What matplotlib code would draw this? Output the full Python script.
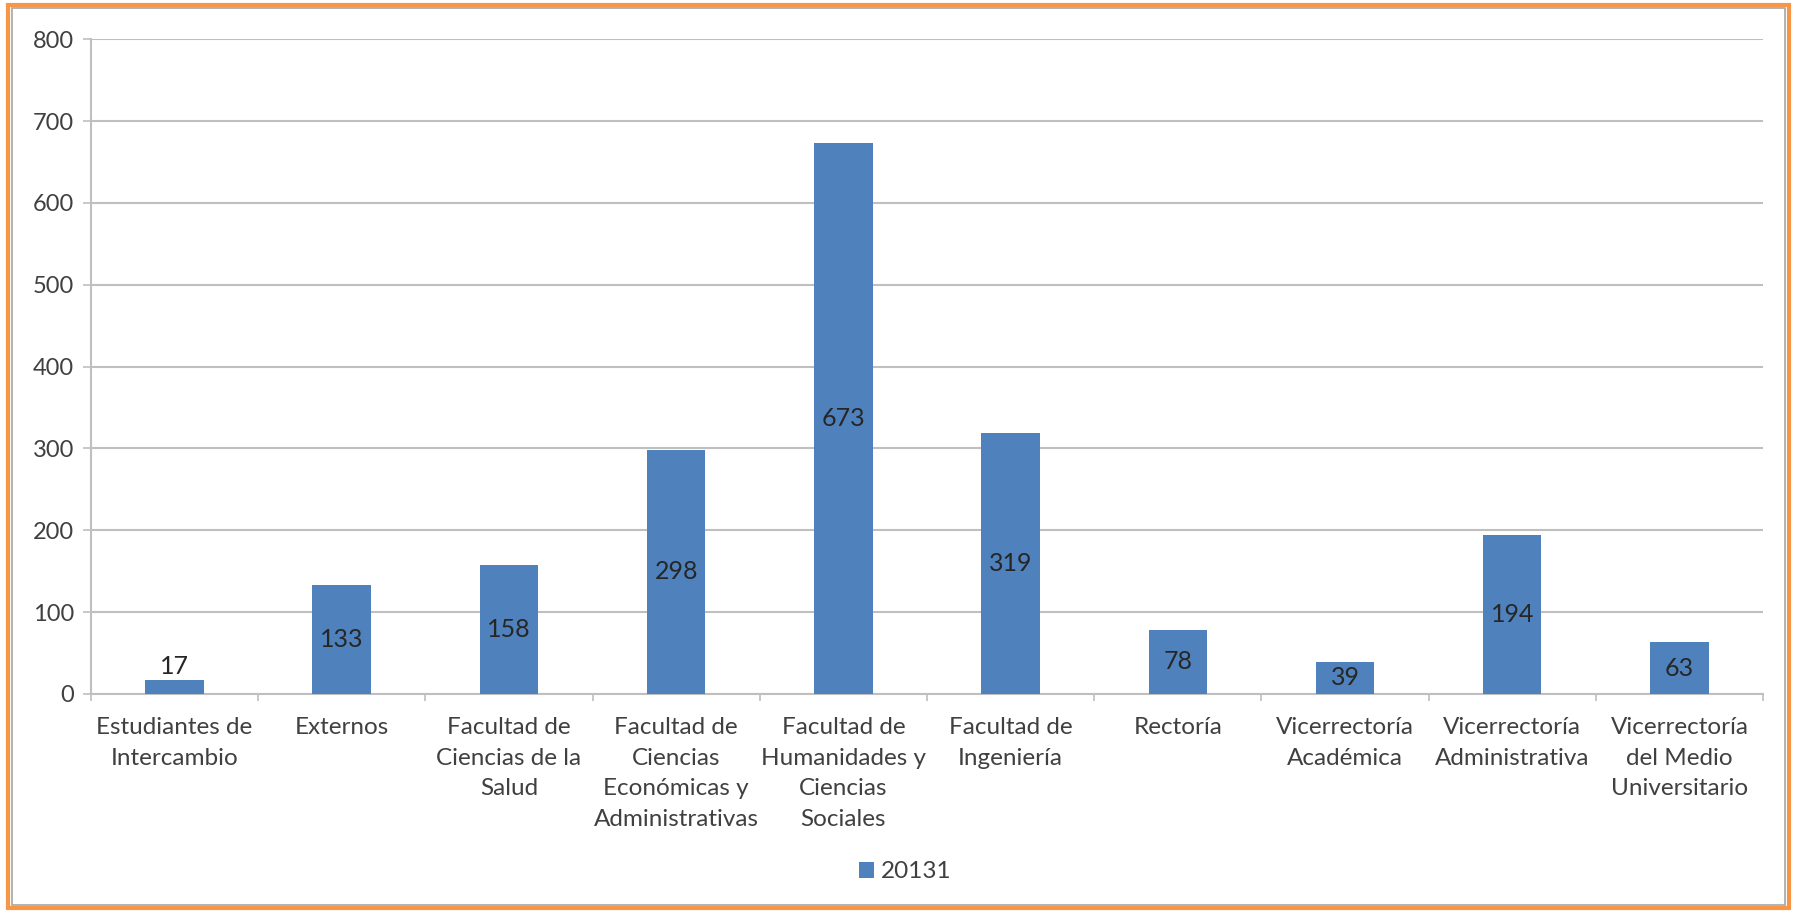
import matplotlib.pyplot as plt
from matplotlib.patches import Rectangle
import numpy as np

plt.rcParams['font.family'] = ['Lato', 'DejaVu Sans']

categorias = ["Estudiantes de\nIntercambio", "Externos", "Facultad de\nCiencias de la\nSalud",
              "Facultad de\nCiencias\nEconómicas y\nAdministrativas",
              "Facultad de\nHumanidades y\nCiencias\nSociales", "Facultad de\nIngeniería",
              "Rectoría", "Vicerrectoría\nAcadémica", "Vicerrectoría\nAdministrativa",
              "Vicerrectoría\ndel Medio\nUniversitario"]
valores = [17, 133, 158, 298, 673, 319, 78, 39, 194, 63]
serie = "20131"
yticks = [0, 100, 200, 300, 400, 500, 600, 700, 800]

azul = "#4F81BD"
gris = "#BFBFBF"

fig = plt.figure(figsize=(17.97, 9.13), dpi=100)
ax = fig.add_axes([0.0506, 0.240, 0.9305, 0.717])

x = np.arange(len(valores))
barras = ax.bar(x, valores, width=0.35, color=azul, label=serie, zorder=3)

# etiquetas de datos
for xi, v in zip(x, valores):
    if v < 30:
        ax.text(xi, v + 2, str(v), ha="center", va="bottom", fontsize=18, color="#262626")
    else:
        ax.text(xi, v / 2, str(v), ha="center", va="center", fontsize=18, color="#262626", zorder=4)

ax.set_xlim(-0.5, len(valores) - 0.5)
ax.set_ylim(0, 800)
ax.set_yticks(yticks)
ax.yaxis.grid(True, color=gris, lw=1.5, zorder=0)
ax.tick_params(axis="y", length=6, width=1.2, color=gris, pad=6, labelsize=17, labelcolor="#404040")

ax.set_xticks(x)
ax.set_xticklabels(categorias, fontsize=17.5, color="#404040", linespacing=1.55)
ax.set_xticks(np.arange(len(valores) + 1) - 0.5, minor=True)
ax.tick_params(axis="x", which="major", length=0, pad=17)
ax.tick_params(axis="x", which="minor", length=5, width=1.2, color=gris)

for s in ["top", "right"]:
    ax.spines[s].set_visible(False)
ax.spines["left"].set_color(gris)
ax.spines["bottom"].set_color(gris)
ax.spines["left"].set_linewidth(1.5)
ax.spines["bottom"].set_linewidth(1.5)

fig.legend(loc="center", bbox_to_anchor=(0.504, 0.045), frameon=False, fontsize=17.5,
           handlelength=0.6, handleheight=0.6, handletextpad=0.3, labelcolor="#404040")

# marco naranja
fig.patches.append(Rectangle((0.0045, 0.005), 0.991, 0.99, transform=fig.transFigure,
                             fill=False, edgecolor="#F79646", lw=3))
fig.patches.append(Rectangle((0.0068, 0.009), 0.9865, 0.982, transform=fig.transFigure,
                             fill=False, edgecolor="#A6A6A6", lw=1.2))

fig.savefig("out.png", dpi=100)
